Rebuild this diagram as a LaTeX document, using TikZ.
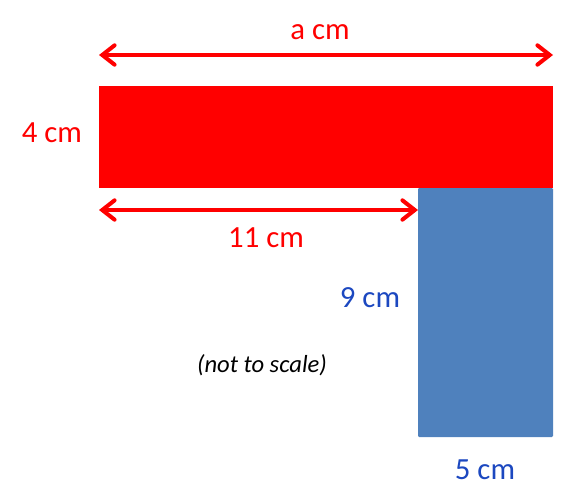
\documentclass[tikz,border=0pt]{standalone}
\usepackage{fontspec}
\setmainfont{Carlito}
\usetikzlibrary{arrows.meta, positioning}
\definecolor{barred}{RGB}{255,0,0}
\definecolor{blockblue}{RGB}{79,129,189}
\definecolor{labelblue}{RGB}{28,72,192}

\begin{document}
\begin{tikzpicture}[x=0.02cm, y=-0.02cm,
    redblock/.style={fill=barred, draw=none},
    blueblock/.style={fill=blockblue, draw=none, rounded corners=0.6pt},
    dim/.style={{Straight Barb[length=7pt, width=11pt, line cap=round]}-{Straight Barb[length=7pt, width=11pt, line cap=round]},
                line width=2.3pt, draw=barred, line cap=round},
    redlabel/.style={text=barred, font=\fontsize{17.5}{20}\selectfont},
    bluelabel/.style={text=labelblue, font=\fontsize{17.5}{20}\selectfont},
    note/.style={font=\itshape\fontsize{14}{16}\selectfont}]
    \useasboundingbox (0,0) rectangle (574,500);

    % Blocks
    \coordinate (redtl) at (99,86);
    \coordinate (redbr) at (553,188);
    \coordinate (bluetl) at (418,188);
    \coordinate (bluebr) at (553,437);
    \fill[redblock] (redtl) rectangle (redbr);
    \fill[blueblock] (bluetl) rectangle (bluebr);

    % Dimension arrows
    \coordinate (topleft) at (99,55);
    \coordinate (topright) at (553,55);
    \coordinate (lowleft) at (99,210);
    \coordinate (lowright) at (418,210);
    \draw[dim] (topleft) -- (topright);
    \draw[dim] (lowleft) -- (lowright);

    % Labels
    \node[redlabel] (alen) at (320,32) {a cm};
    \node[redlabel] (redh) at (52,133) {4 cm};
    \node[redlabel] (redpart) at (266,238) {11 cm};
    \node[bluelabel] (blueh) at (370,298) {9 cm};
    \node[bluelabel] (bluew) at (485,470) {5 cm};
    \node[note] (scale) at (262,365) {(not to scale)};

\end{tikzpicture}
\end{document}
